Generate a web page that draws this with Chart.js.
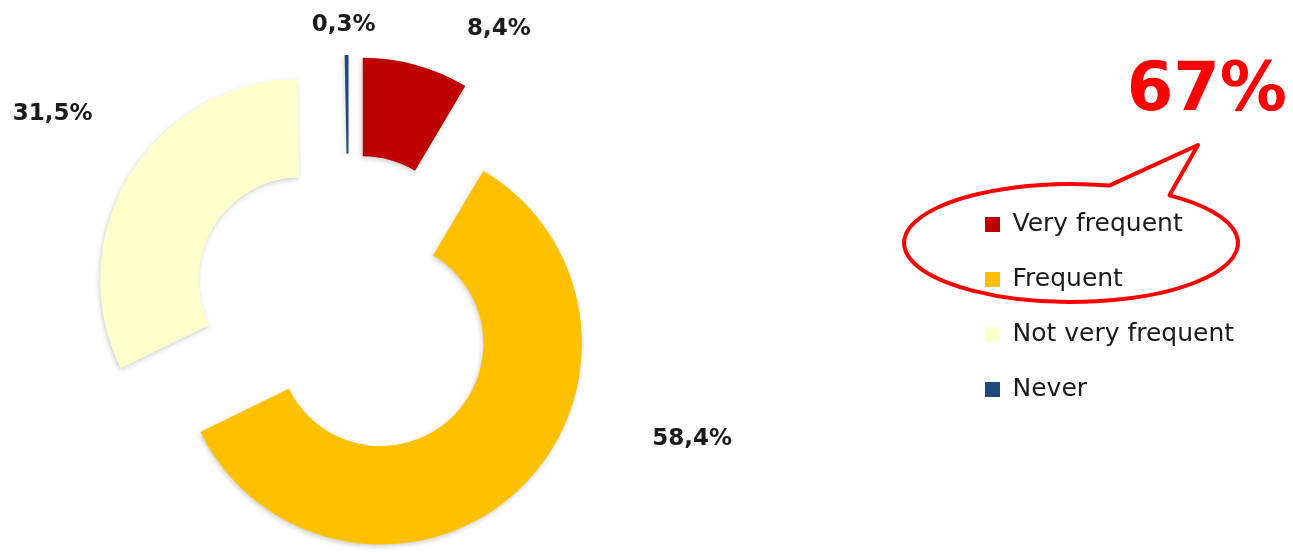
<!DOCTYPE html>
<html>
<head>
<meta charset="utf-8">
<script src="https://cdn.jsdelivr.net/npm/chart.js@4.4.1/dist/chart.umd.min.js"></script>
<style>
  html, body { margin: 0; padding: 0; background: #fff; overflow: hidden; }
  /* canvas starts left of the page so the ring sits left while the legend stays right */
  #wrap { position: absolute; left: -257px; top: 0; width: 1550px; height: 552px; }
</style>
</head>
<body>
<div id="wrap"><canvas id="donut"></canvas></div>
<script>
const categories = ['Very frequent', 'Frequent', 'Not very frequent', 'Never'];
const shares = [8.4, 58.4, 31.5, 0.3];
const sliceColors = ['#C00000', '#FFC000', '#FFFFCC', '#1F497D'];
const highlight = '67%';

// how far each slice is pulled out of the ring, px
const explode = [52, 47, 56, 53];
// data label nudges from the slice's outer edge, px
const labelNudge = [[83, -36], [175, -52], [-77, -61], [-3, -30]];

const SHIFT = 257;

const explodePlugin = {
  id: 'explode',
  beforeDatasetDraw(chart, args) {
    const ctx = chart.ctx;
    args.meta.data.forEach(function(arc, i) {
      const mid = (arc.startAngle + arc.endAngle) / 2;
      ctx.save();
      ctx.translate(Math.cos(mid) * explode[i], Math.sin(mid) * explode[i]);
      ctx.shadowColor = 'rgba(0,0,0,0.2)';
      ctx.shadowBlur = 5;
      ctx.shadowOffsetX = -1;
      ctx.shadowOffsetY = 2;
      arc.draw(ctx);
      ctx.restore();
    });
    return false;
  }
};

const labelPlugin = {
  id: 'sliceLabels',
  afterDatasetsDraw(chart) {
    const ctx = chart.ctx;
    const arcs = chart.getDatasetMeta(0).data;
    ctx.save();
    ctx.font = 'bold 23px "DejaVu Sans"';
    ctx.fillStyle = '#1b1b1b';
    ctx.textAlign = 'center';
    ctx.textBaseline = 'middle';
    arcs.forEach(function(arc, i) {
      const mid = (arc.startAngle + arc.endAngle) / 2;
      const r = arc.outerRadius + explode[i];
      const x = arc.x + Math.cos(mid) * r + labelNudge[i][0];
      const y = arc.y + Math.sin(mid) * r + labelNudge[i][1];
      ctx.fillText(shares[i].toFixed(1).replace('.', ',') + '%', x, y);
    });
    ctx.restore();
  }
};

//Speech bubble round the first two legend entries
const calloutPlugin = {
  id: 'callout',
  afterDraw(chart) {
    const ctx = chart.ctx;
    ctx.save();
    ctx.translate(SHIFT, 0);
    ctx.strokeStyle = '#FF0000';
    ctx.lineWidth = 4;
    ctx.lineJoin = 'round';
    ctx.beginPath();
    ctx.ellipse(1071, 243, 167, 59, 0, -0.94, -1.34);
    ctx.lineTo(1198, 145);
    ctx.closePath();
    ctx.stroke();
    ctx.fillStyle = '#FF0000';
    ctx.font = 'bold 67px "DejaVu Sans"';
    ctx.textAlign = 'right';
    ctx.textBaseline = 'alphabetic';
    ctx.fillText(highlight, 1287, 110);
    ctx.restore();
  }
};

const donutChart = new Chart(
  document.getElementById('donut'),
  {
    type: 'doughnut',
    data: {
      labels: categories,
      datasets: [{
        data: shares,
        backgroundColor: sliceColors,
        borderWidth: 0,
        clip: false
      }]
    },
    options: {
      responsive: true,
      maintainAspectRatio: false,
      animation: false,
      radius: 201,
      cutout: '51%',
      layout: {
        padding: { left: 0, right: 54, top: 182, bottom: 116 }
      },
      plugins: {
        legend: {
          position: 'right',
          align: 'start',
          maxWidth: 284,
          labels: {
            boxWidth: 15,
            boxHeight: 15,
            padding: 30,
            color: '#1a1a1a',
            font: { family: 'DejaVu Sans', size: 25 }
          }
        },
        tooltip: { enabled: false }
      }
    },
    plugins: [explodePlugin, labelPlugin, calloutPlugin]
  }
);
</script>
</body>
</html>
